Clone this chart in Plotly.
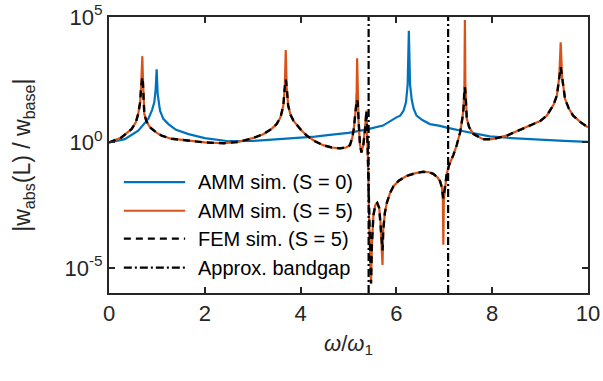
import plotly.graph_objects as go

# ---------------- data ----------------
# AMM simulation, S = 0
x_s0 = [0.0, 0.33, 0.61, 0.82, 0.90, 0.946, 0.975, 0.995, 1.016, 1.065, 1.134, 1.24,
        1.40, 1.66, 2.0, 2.5, 3.0, 3.5, 3.92, 4.3, 4.61, 5.0, 5.34, 5.72, 6.0, 6.08,
        6.15, 6.2, 6.235, 6.26, 6.285, 6.32, 6.36, 6.42, 6.55, 6.70, 6.91, 7.05,
        7.4, 7.75, 7.95, 8.4, 9.0, 9.5, 10.0]
y_s0 = [1.0, 1.35, 2.95, 8.7, 20.0, 40.0, 138.0, 832.0, 87.0, 18.6, 8.7, 5.4,
        3.2, 2.14, 1.48, 1.12, 1.15, 1.32, 1.48, 1.7, 2.0, 2.4, 3.16, 4.7, 10.0, 11.7,
        18.6, 40.0, 200.0, 28000.0, 200.0, 50.0, 22.0, 11.7, 7.6, 5.4, 4.6, 3.9,
        2.8, 2.14, 1.74, 1.5, 1.26, 1.15, 1.05]

# AMM simulation, S = 5
x_s5 = [0.0, 0.26, 0.47, 0.56, 0.61, 0.65, 0.668, 0.685, 0.696, 0.707, 0.72, 0.737,
        0.78, 0.856, 1.0, 1.1, 1.3, 1.66, 2.0, 2.4, 2.7, 3.0, 3.22, 3.4, 3.5, 3.58,
        3.64, 3.67, 3.69, 3.71, 3.74, 3.79, 3.85, 4.0, 4.13, 4.3, 4.47, 4.65, 4.82,
        4.95, 5.03, 5.08, 5.11, 5.15, 5.17, 5.18, 5.19, 5.21, 5.24, 5.27, 5.31, 5.34,
        5.36, 5.375, 5.39, 5.41, 5.43, 5.45, 5.47, 5.49, 5.52, 5.56, 5.6, 5.64, 5.67,
        5.695, 5.71, 5.725, 5.76, 5.8, 5.87, 5.94, 6.05, 6.21, 6.4, 6.56, 6.68, 6.77,
        6.86, 6.91, 6.95, 6.97, 6.98, 6.99, 7.02, 7.05, 7.1, 7.19, 7.26, 7.33, 7.38,
        7.4, 7.42, 7.43, 7.44, 7.47, 7.52, 7.61, 7.81, 8.0, 8.3, 8.72, 9.0, 9.14,
        9.28, 9.35, 9.4, 9.43, 9.46, 9.52, 9.6, 9.69, 9.85, 10.0]
y_s5 = [1.0, 1.58, 3.4, 6.3, 13.8, 40.0, 138.0, 630.0, 2750.0, 400.0, 50.0, 13.8,
        7.1, 4.0, 2.4, 1.86, 1.41, 1.15, 1.0, 0.93, 1.05, 1.48, 2.14, 3.55, 5.4, 10.0,
        29.5, 160.0, 4800.0, 160.0, 29.5, 12.6, 7.4, 3.3, 1.86, 1.12, 0.78, 0.63, 0.58,
        0.63, 0.78, 1.58, 3.4, 20.0, 100.0, 2240.0, 100.0, 6.3, 0.8, 0.4, 0.8, 2.5,
        7.9, 18.6, 3.2, 0.1, 1.0e-3, 3.2e-5, 2.4e-6, 1.0e-4, 1.26e-3, 3.2e-3, 3.9e-3,
        2.5e-3, 6.3e-4, 5.0e-5, 1.3e-5, 3.2e-4, 1.6e-3, 3.9e-3, 1.0e-2, 1.8e-2, 3.0e-2,
        4.6e-2, 6.0e-2, 6.8e-2, 6.5e-2, 5.6e-2, 4.0e-2, 2.9e-2, 1.6e-2, 5.0e-3, 8.3e-5,
        5.0e-3, 2.5e-2, 5.6e-2, 0.126, 0.32, 0.79, 2.5, 10.0, 21.9, 200.0, 76000.0,
        200.0, 8.7, 4.0, 2.14, 1.35, 1.35, 1.86, 4.0, 7.1, 11.7, 31.6, 74.0, 400.0,
        9800.0, 400.0, 55.0, 22.4, 11.7, 6.3, 4.0]

# FEM simulation, S = 5 (same curve, lower resonance peaks)
x_fem = x_s5
y_fem = [1.0, 1.58, 3.4, 6.3, 13.8, 40.0, 138.0, 280.0, 400.0, 250.0, 50.0, 13.8,
         7.1, 4.0, 2.4, 1.86, 1.41, 1.15, 1.0, 0.93, 1.05, 1.48, 2.14, 3.55, 5.4, 10.0,
         29.5, 160.0, 320.0, 160.0, 29.5, 12.6, 7.4, 3.3, 1.86, 1.12, 0.78, 0.63, 0.58,
         0.63, 0.78, 1.58, 3.4, 20.0, 40.0, 50.0, 40.0, 6.3, 0.8, 0.4, 0.8, 2.5,
         7.9, 18.6, 3.2, 0.1, 1.0e-3, 3.2e-5, 2.4e-6, 1.0e-4, 1.26e-3, 3.2e-3, 3.9e-3,
         2.5e-3, 6.3e-4, 1.3e-4, 5.0e-5, 3.2e-4, 1.6e-3, 3.9e-3, 1.0e-2, 1.8e-2, 3.0e-2,
         4.6e-2, 6.0e-2, 6.8e-2, 6.5e-2, 5.6e-2, 4.0e-2, 2.9e-2, 1.6e-2, 8.0e-3, 6.0e-3,
         8.0e-3, 2.5e-2, 5.6e-2, 0.126, 0.32, 0.79, 2.5, 10.0, 21.9, 100.0, 160.0,
         100.0, 8.7, 4.0, 2.14, 1.35, 1.35, 1.86, 4.0, 7.1, 11.7, 31.6, 74.0, 400.0,
         1000.0, 400.0, 55.0, 22.4, 11.7, 6.3, 4.0]

# Approximate bandgap limits
bandgap_x = [5.42, 7.08]
y_limits = [1e-6, 1e5]

x_ticks = [0, 2, 4, 6, 8, 10]
y_ticks = [1e-5, 1e0, 1e5]
y_ticktext = ["10<sup>-5</sup>", "10<sup>0</sup>", "10<sup>5</sup>"]

legend_names = ["AMM sim. (S = 0)", "AMM sim. (S = 5)", "FEM sim. (S = 5)", "Approx. bandgap"]
y_title = "|w<sub>abs</sub>(L) / w<sub>base</sub>|"
x_title = "<i>ω</i>/<i>ω</i><sub>1</sub>"

# ---------------- styles ----------------
BLUE = "#0072BD"
ORANGE = "#D95319"
BLACK = "#000000"
AX = "#262626"
FONT = "Liberation Sans, Arial, Helvetica, sans-serif"

fig = go.Figure()

fig.add_trace(go.Scatter(x=x_s0, y=y_s0, mode="lines", name=legend_names[0],
                         line=dict(color=BLUE, width=2.2)))
fig.add_trace(go.Scatter(x=x_s5, y=y_s5, mode="lines", name=legend_names[1],
                         line=dict(color=ORANGE, width=2.2)))
fig.add_trace(go.Scatter(x=x_fem, y=y_fem, mode="lines", name=legend_names[2],
                         line=dict(color=BLACK, width=2.4, dash="7px,5px")))
bx, by = [], []
for b in bandgap_x:
    bx += [b, b, None]
    by += [y_limits[0], y_limits[1], None]
fig.add_trace(go.Scatter(x=bx, y=by, mode="lines", name=legend_names[3],
                         line=dict(color=BLACK, width=2.2, dash="8px,3px,2px,3px")))

# manual legend (long line samples as in the reference)
leg_styles = [dict(color=BLUE, width=2.2), dict(color=ORANGE, width=2.2),
              dict(color=BLACK, width=2.4, dash="7px,5px"),
              dict(color=BLACK, width=2.2, dash="8px,3px,2px,3px")]
leg_y = [0.402, 0.298, 0.197, 0.092]
for name, st, yy in zip(legend_names, leg_styles, leg_y):
    fig.add_shape(type="line", xref="paper", yref="paper", x0=0.031, x1=0.159,
                  y0=yy, y1=yy, line=st)
    fig.add_annotation(xref="paper", yref="paper", x=0.182, y=yy, text=name,
                       showarrow=False, xanchor="left", yanchor="middle",
                       font=dict(family=FONT, size=20, color=BLACK))

# y-axis title placed as a rotated annotation
fig.add_annotation(xref="paper", yref="paper", x=-0.18, y=0.5, text=y_title,
                   textangle=-90, showarrow=False, xanchor="center", yanchor="middle",
                   font=dict(family=FONT, size=23, color=AX))

fig.update_layout(
    width=603, height=381,
    margin=dict(l=109, r=15, t=17, b=88),
    paper_bgcolor="white", plot_bgcolor="white",
    showlegend=False,
    font=dict(family=FONT, size=22, color=AX),
)
fig.update_xaxes(range=[0, 10], tickvals=x_ticks, ticks="inside", ticklen=6,
                 tickwidth=1.5, tickcolor=AX, showline=True, linecolor=AX,
                 linewidth=2, mirror="ticks", showgrid=False, zeroline=False,
                 automargin=False,
                 tickfont=dict(size=22, color=AX),
                 title=dict(text=x_title, font=dict(size=22, color=AX), standoff=10))
fig.update_yaxes(type="log", range=[-6, 5], tickvals=y_ticks, ticktext=y_ticktext,
                 ticks="inside", ticklen=6, tickwidth=1.5, tickcolor=AX,
                 showline=True, linecolor=AX, linewidth=2, mirror="ticks",
                 showgrid=False, zeroline=False, automargin=False,
                 tickfont=dict(size=22, color=AX))

fig.write_html("out.html", config={"displayModeBar": False},
               post_script="document.body.style.margin='0';document.body.style.overflow='hidden';")
